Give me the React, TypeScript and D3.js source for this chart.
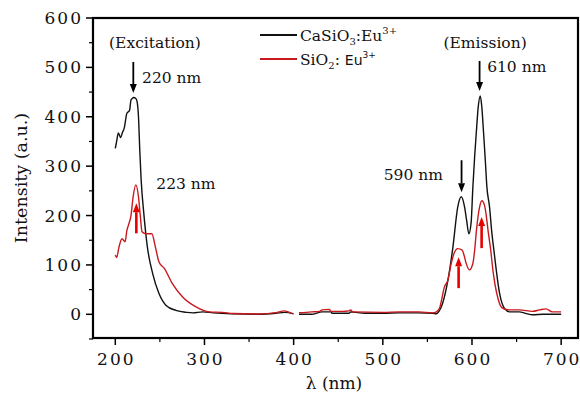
import React from "react";
import * as d3 from "d3";

// ---------- data ----------
const caExX = [200, 201.5, 203.4, 206, 208, 210, 213, 216, 217.6, 219, 220.5, 223, 224.5, 226, 227.5, 229, 232, 236, 242, 249, 257, 268, 280, 287, 298, 310, 330, 360, 380, 390, 400];
const caExY = [336, 350, 367, 358, 368, 377, 407, 413, 434, 437, 439, 437, 430, 400, 330, 272, 204, 136, 82, 42, 18, 8, 4, 3, 5, 3, 1, 0, 2, 4, 1];

const siExX = [200, 201.5, 204, 207.5, 211, 213, 215, 217.6, 220, 223, 226, 228, 230, 234.5, 241, 245, 249, 255, 264, 275.5, 290.5, 305.5, 320, 331.6, 361.6, 380, 389.6, 394, 399];
const siExY = [120, 115, 135, 153, 147, 170, 182, 200, 238, 262, 238, 200, 167, 163, 163, 136, 106, 93, 62, 35, 15, 5, 4, 1.5, 0.5, 3.4, 7, 5, 1.5];

const caEmX = [406, 420, 432, 436, 442, 443, 455, 462, 464, 480, 500, 519, 540, 556, 560, 563, 567, 573, 578.6, 584, 588, 591.7, 594, 596.5, 599, 601, 603, 604.8, 607, 609.3, 611, 613, 615, 616.7, 619.7, 622, 625, 631, 636.6, 642, 653, 660, 668, 680, 690, 700];
const caEmY = [0, 0, 5, 5, 5, 2, 2, 2, 5, 2, 2, 3, 3, 2, 1, 6, 22, 69, 136, 217, 238, 217, 190, 163, 185, 258, 320, 367, 420, 442, 420, 367, 310, 258, 217, 170, 123, 42, 11.5, 5, 5, 2, -1, 0, 0, 0];

const siEmX = [406, 420, 429, 432, 440, 442, 455, 462, 464, 466, 500, 519, 540, 556, 560, 563.6, 566, 569, 573, 576.7, 580.5, 584, 589, 591, 593.5, 597, 601, 603, 605, 608.5, 611, 614, 616, 618, 621, 623.5, 629, 634.5, 642, 653, 668, 676, 683, 690, 700];
const siEmY = [3, 5, 6, 9, 10, 6, 6, 7, 9, 5, 4, 5, 5, 3, 5, 12, 30, 55, 69, 103, 126, 133, 130, 120, 103, 90, 103, 130, 170, 217, 230, 221, 200, 170, 130, 89, 33, 12, 9, 9, 6, 9, 11, 5, 5];

const xMajor = [200, 300, 400, 500, 600, 700];
const xMinor = [250, 350, 450, 550, 650];
const yMajor = [0, 100, 200, 300, 400, 500, 600];
const yMinor = [-50, 50, 150, 250, 350, 450, 550];

// annotations (data units)
const arrows = [
  { x: 220.2, from: 511, to: 448, color: "#000" },
  { x: 223.6, from: 164, to: 225, color: "#e60000" },
  { x: 588.3, from: 312, to: 247, color: "#000" },
  { x: 608.5, from: 513, to: 452, color: "#000" },
  { x: 585, from: 53, to: 115.5, color: "#e60000" },
  { x: 610.8, from: 134, to: 197, color: "#e60000" },
];
const labels = [
  { x: 193, y: 539, text: "(Excitation)" },
  { x: 230, y: 469, text: "220 nm" },
  { x: 246, y: 253, text: "223 nm" },
  { x: 568, y: 539, text: "(Emission)" },
  { x: 617, y: 491, text: "610 nm" },
  { x: 501, y: 271, text: "590 nm" },
];

const BLACK = "#111";
const RED = "#c8191e";
const SERIF = "'DejaVu Serif', serif";

export default function App() {
  const W = 580, H = 400;
  const left = 93, right = 578, top = 18, bottom = 338;
  const x = d3.scaleLinear().domain([175, 720]).range([left, right + 1]);
  const y = d3.scaleLinear().domain([-50, 600]).range([bottom + 1, top]);

  const line = d3
    .line<[number, number]>()
    .x((d) => x(d[0]))
    .y((d) => y(d[1]))
    .curve(d3.curveMonotoneX);
  const zip = (a: number[], b: number[]) => a.map((v, i) => [v, b[i]] as [number, number]);

  const arrowPath = (a: { x: number; from: number; to: number }) => {
    const ax = x(a.x);
    const y0 = y(a.from);
    const y1 = y(a.to);
    const dir = y1 > y0 ? 1 : -1;
    const hl = 9, hw = 3.5;
    return {
      shaft: `M${ax},${y0}L${ax},${y1 - dir * hl}`,
      head: `M${ax - hw},${y1 - dir * hl}L${ax + hw},${y1 - dir * hl}L${ax},${y1}Z`,
    };
  };

  return (
    <svg
      width={W}
      height={H}
      style={{ position: "absolute", left: 0, top: 0, background: "#fff" }}
      fontFamily={SERIF}
    >
      <rect width={W} height={H} fill="#fff" />
      {/* data lines */}
      <path d={line(zip(caExX, caExY)) || ""} fill="none" stroke={BLACK} strokeWidth={1.4} />
      <path d={line(zip(siExX, siExY)) || ""} fill="none" stroke={RED} strokeWidth={1.4} />
      <path d={line(zip(caEmX, caEmY)) || ""} fill="none" stroke={BLACK} strokeWidth={1.4} />
      <path d={line(zip(siEmX, siEmY)) || ""} fill="none" stroke={RED} strokeWidth={1.4} />

      {/* frame */}
      <rect x={left} y={top} width={right - left} height={bottom - top} fill="none" stroke="#000" strokeWidth={2.2} />

      {/* y ticks */}
      {yMajor.map((v) => (
        <g key={"ym" + v}>
          <line x1={left - 7} x2={left} y1={y(v)} y2={y(v)} stroke="#000" strokeWidth={1.5} />
          <text x={left - 10} y={y(v) + 6} textAnchor="end" fontSize={17} letterSpacing={2} fill="#111">
            {v}
          </text>
        </g>
      ))}
      {yMinor.map((v) => (
        <line key={"yn" + v} x1={left - 4} x2={left} y1={y(v)} y2={y(v)} stroke="#000" strokeWidth={1.2} />
      ))}
      {/* x ticks */}
      {xMajor.map((v) => (
        <g key={"xm" + v}>
          <line x1={x(v)} x2={x(v)} y1={bottom} y2={bottom + 7} stroke="#000" strokeWidth={1.5} />
          <text x={x(v) + 1} y={bottom + 27} textAnchor="middle" fontSize={17} letterSpacing={2} fill="#111">
            {v}
          </text>
        </g>
      ))}
      {xMinor.map((v) => (
        <line key={"xn" + v} x1={x(v)} x2={x(v)} y1={bottom} y2={bottom + 4} stroke="#000" strokeWidth={1.2} />
      ))}

      {/* axis titles */}
      <text x={334} y={389} textAnchor="middle" fontSize={17} fill="#111">
        λ (nm)
      </text>
      <text
        transform={`translate(27,${(top + bottom) / 2}) rotate(-90)`}
        textAnchor="middle"
        fontSize={17.5}
        fill="#111"
      >
        Intensity (a.u.)
      </text>

      {/* legend */}
      <line x1={260} x2={297} y1={35} y2={35} stroke={BLACK} strokeWidth={2} />
      <line x1={260} x2={297} y1={59} y2={59} stroke={RED} strokeWidth={2} />
      <text x={300} y={41} fontSize={15.5} fill="#111">
        CaSiO<tspan fontSize={10} dy={4}>3</tspan>
        <tspan dy={-4}>:Eu</tspan>
        <tspan fontSize={10} dy={-7}>3+</tspan>
      </text>
      <text x={300} y={65} fontSize={15.5} fill="#111">
        SiO<tspan fontSize={10} dy={4}>2</tspan>
        <tspan dy={-4}>: </tspan>
        <tspan fontFamily="'DejaVu Sans', sans-serif" fontSize={14}>Eu</tspan>
        <tspan fontFamily="'DejaVu Sans', sans-serif" fontSize={9} dy={-7}>3+</tspan>
      </text>

      {/* annotations */}
      {labels.map((l) => (
        <text key={l.text} x={x(l.x)} y={y(l.y)} fontSize={15.5} fill="#111">
          {l.text}
        </text>
      ))}
      {arrows.map((a, i) => {
        const p = arrowPath(a);
        return (
          <g key={"a" + i}>
            <path d={p.shaft} stroke={a.color} strokeWidth={a.color === "#000" ? 1.8 : 2.6} />
            <path d={p.head} fill={a.color} />
          </g>
        );
      })}
    </svg>
  );
}
